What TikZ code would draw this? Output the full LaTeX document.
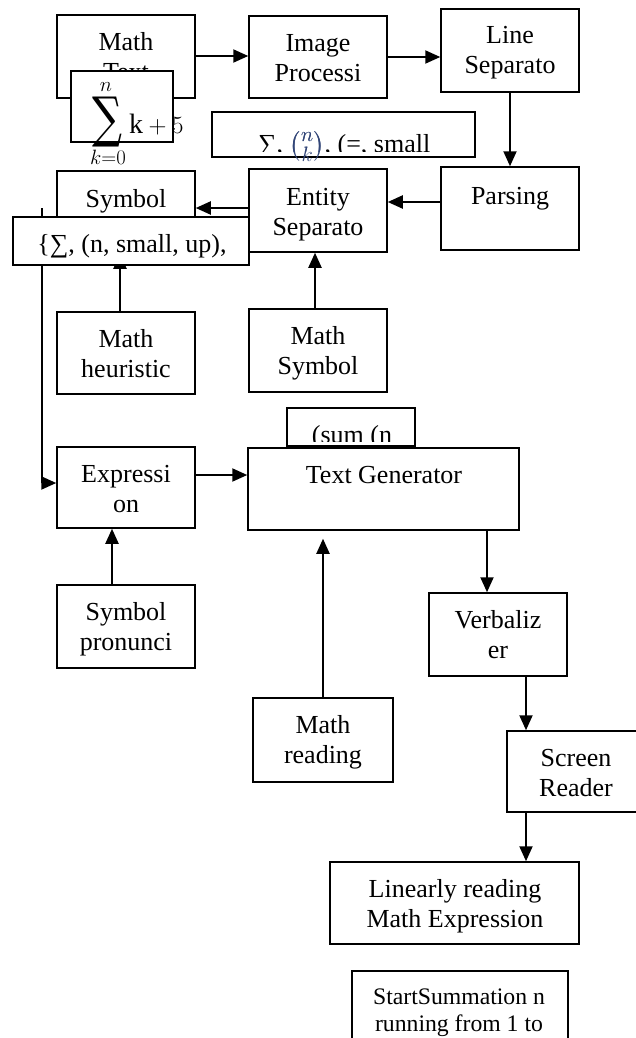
\documentclass[tikz,border=0pt]{standalone}
\usepackage{amsmath}
\usepackage{fontspec}
\setmainfont{Liberation Serif}
\newfontfamily\sumfont{DejaVu Serif}
\usetikzlibrary{arrows.meta,calc}
\definecolor{binc}{RGB}{50,70,120}
\tikzset{
  box/.style={draw, line width=1.5pt, fill=white, inner sep=0pt, rectangle},
  txt/.style={anchor=base, inner sep=0pt, font=\fontsize{26}{30}\selectfont},
  arr/.style={line width=2pt, -{Triangle[length=15pt,width=13pt]}},
  ln/.style={line width=2pt}
}
\newcommand\twol[2]{\begin{tabular}[t]{@{}c@{}}#1\\#2\end{tabular}}
\newcommand\mkbox[5]{\node[box, minimum width={#4-#2}, minimum height={#5-#3}] (#1) at ({(#2+#4)/2},{(#3+#5)/2}) {};}
\begin{document}
\begin{tikzpicture}[x=1pt,y=-1pt]
\useasboundingbox (0,0) rectangle (635,1038);

% --- top row
\mkbox{mathtext}{57}{15}{195}{98}
\node[txt] (mathtext-t) at (126,51) {\twol{Math}{Text}};
\mkbox{imgproc}{249}{16}{387}{98}
\node[txt] (imgproc-t) at (318,52) {\twol{Image}{Processi}};
\mkbox{linesep}{441}{9}{579}{92}
\node[txt] (linesep-t) at (510,44) {\twol{Line}{Separato}};
\draw[arr] ([yshift=0.5pt]mathtext.east) -- ([yshift=0.5pt]mathtext.east -| imgproc.west);
\draw[arr] (imgproc.east) -- (imgproc.east -| linesep.west);

% --- sum image box
\mkbox{sumimg}{71}{71}{173}{142}
\node[inner sep=0pt] (sumsig) at (107,122) {\resizebox*{30pt}{50pt}{\sumfont ∑}};
\node[inner sep=0pt, font=\fontsize{22}{22}\selectfont] (sumup) at (106,87) {$n$};
\node[inner sep=0pt, font=\fontsize{20}{20}\selectfont] (sumlow) at (108,157) {$k{=}0$};
\node[inner sep=0pt, anchor=base west, font=\fontsize{28}{30}\selectfont] (sumk) at (129,133) {$\mathrm{k}+5$};

% --- sigma box (clipped text)
\mkbox{sigbox}{212}{112}{475}{157}
\begin{scope}
  \clip (212,112) rectangle (475,151);
  \node[txt, anchor=base west] (sigbox-t) at (258,153) {∑, {\fontsize{30}{30}\selectfont\textcolor{binc}{$\binom{n}{k}$}}, (=, small};
\end{scope}
\node[txt, anchor=base west] (sigbox-b) at (258,153) {\phantom{∑, }{\fontsize{30}{30}\selectfont\textcolor{binc}{$\binom{n}{k}$}}};

% --- second row
\mkbox{parsing}{441}{167}{579}{250}
\node[txt] (parsing-t) at (510,204) {Parsing};
\mkbox{entity}{249}{169}{387}{252}
\node[txt] (entity-t) at (318,205) {\twol{Entity}{Separato}};
\draw[arr] (linesep.south) -- (parsing.north);
\draw[arr] ([yshift=6.5pt]parsing.west) -- ([yshift=6.5pt]parsing.west -| entity.east);

\mkbox{symbol}{57}{171}{195}{253}
\node[txt] (symbol-t) at (126,207) {Symbol};

\mkbox{heur}{57}{312}{195}{394}
\node[txt] (heur-t) at (126,347) {\twol{Math}{heuristic}};
\draw[arr] ([xshift=-6pt]heur.north) -- ([xshift=-6pt]heur.north |- symbol.south);

\mkbox{expr}{57}{447}{195}{528}
\node[txt] (expr-t) at (126,482) {\twol{Expressi}{on}};
\coordinate (lstart) at (42,208);
\draw[arr] (lstart) |- ([yshift=4.5pt]expr.west);

\draw[arr] ([yshift=2.5pt]entity.west) -- ([yshift=2.5pt]entity.west -| symbol.east);

% --- set box on top
\mkbox{setbox}{13}{217}{249}{265}
\node[txt] (setbox-t) at (132,252) {\{∑, (n, small, up),};

\mkbox{mathsym}{249}{309}{387}{392}
\node[txt] (mathsym-t) at (318,344) {\twol{Math}{Symbol}};
\draw[arr] ([xshift=-3pt]mathsym.north) -- ([xshift=-3pt]mathsym.north |- entity.south);

% --- text generator
\mkbox{textgen}{248}{448}{519}{530}
\node[txt] (textgen-t) at (384,483) {Text Generator};
\mkbox{sumn}{287}{408}{415}{446}
\begin{scope}
  \clip (287,408) rectangle (415,441);
  \node[txt] (sumn-t) at (352,443) {(sum (n};
\end{scope}
\draw[arr] ([yshift=12.5pt]expr.east) -- ([yshift=12.5pt]expr.east -| textgen.west);

\mkbox{pron}{57}{585}{195}{668}
\node[txt] (pron-t) at (126,620) {\twol{Symbol}{pronunci}};
\draw[arr] ([xshift=-14pt]pron.north) -- ([xshift=-14pt]pron.north |- expr.south);

\mkbox{mread}{253}{698}{393}{782}
\node[txt] (mread-t) at (323,733) {\twol{Math}{reading}};
\draw[arr, shorten >=8pt] (mread.north) -- (mread.north |- textgen.south);

\mkbox{verb}{429}{593}{567}{676}
\node[txt] (verb-t) at (498,628) {\twol{Verbaliz}{er}};
\draw[arr] ([xshift=-11pt]verb.north |- textgen.south) -- ([xshift=-11pt]verb.north);

\mkbox{screen}{507}{731}{645}{812}
\node[txt] (screen-t) at (576,766) {\twol{Screen}{Reader}};
\draw[arr] ([xshift=-50pt]screen.north |- verb.south) -- ([xshift=-50pt]screen.north);

\mkbox{linear}{330}{862}{579}{944}
\node[txt] (linear-t) at (455,897) {\twol{Linearly reading}{Math Expression}};
\draw[arr] ([xshift=-50pt]screen.south) -- ([xshift=-50pt]screen.south |- linear.north);

\mkbox{start}{352}{971}{568}{1060}
\begin{scope}
  \clip (352,971) rectangle (568,1036);
  \node[txt, font=\fontsize{23.7}{27}\selectfont] (start-t) at (459,1004) {\twol{StartSummation n}{running from 1 to}};
\end{scope}
\end{tikzpicture}
\end{document}
